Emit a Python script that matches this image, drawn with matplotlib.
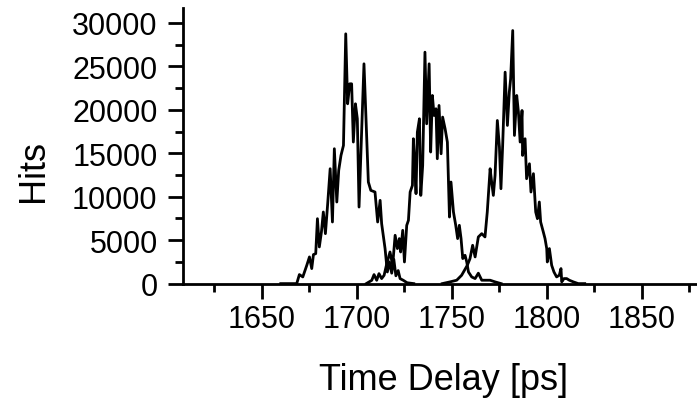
import matplotlib
matplotlib.use("Agg")
import matplotlib.pyplot as plt
from matplotlib.ticker import MultipleLocator

plt.rcParams['font.family'] = ['Liberation Sans', 'DejaVu Sans']

# peak 1 (time delay in ps, hits)
t1 = [1660, 1668.4, 1669.8, 1671.6, 1673.7, 1675.1, 1676.3, 1677.2, 1678.4, 1679.3,
      1680.3, 1681.4, 1682.4, 1683.5, 1684.7, 1686.0, 1687.2, 1688.2, 1689.5, 1690.5,
      1691.7, 1693.0, 1694.2, 1695.2, 1696.3, 1697.3, 1698.2, 1699.3, 1700.3, 1701.2,
      1703.8, 1706.1, 1707.4, 1709.6, 1711.0, 1712.3, 1713.1, 1714.9, 1716.1, 1717.2,
      1718.4, 1719.5, 1720.6, 1721.8, 1722.8, 1724.5, 1726.5, 1730]
h1 = [0, 0, 1040, 770, 2110, 3070, 1730, 3340, 3450, 7470,
      4220, 5940, 8240, 5750, 9200, 13220, 7090, 15520, 9390, 13030,
      14750, 15900, 28740, 20690, 22990, 22990, 16290, 20690, 18970, 8810,
      25290, 11690, 10730, 10540, 7090, 9580, 6900, 4030, 1340, 2500,
      1200, 2800, 900, 1500, 580, 380, 100, 0]

# peak 2
t2 = [1705, 1707.9, 1709.1, 1710.5, 1711.7, 1713.1, 1714.4, 1715.8, 1717.5, 1718.9,
      1720.2, 1721.4, 1722.4, 1723.1, 1724.2, 1725.1, 1726.3, 1727.2, 1728.1, 1729.3,
      1729.8, 1730.7, 1731.2, 1731.9, 1733.0, 1733.7, 1734.7, 1735.9, 1736.8, 1738.1,
      1738.9, 1739.8, 1740.7, 1741.7, 1742.4, 1743.3, 1744.4, 1745.2, 1746.5, 1747.7,
      1748.8, 1749.6, 1750.9, 1752.1, 1753.1, 1754.0, 1754.9, 1755.8, 1757.0, 1757.9,
      1758.8, 1760.5, 1762.3, 1764.0, 1765.8, 1770.2, 1772.8, 1776]
h2 = [0, 380, 1040, 380, 1150, 580, 960, 2300, 3640, 2110,
      5560, 4030, 5180, 3640, 6130, 2490, 6700, 7280, 10540, 11300,
      16670, 13030, 10350, 17430, 18970, 10150, 13600, 26630, 18390, 25290,
      15140, 21650, 19350, 20120, 14370, 20500, 14940, 19160, 17820, 16280,
      7660, 11690, 8240, 6710, 5180, 6710, 5180, 2880, 3260, 2490,
      1340, 770, 580, 1200, 390, 390, 200, 0]

# peak 3
t3 = [1745, 1749.1, 1752.6, 1755.2, 1758.2, 1759.6, 1761.0, 1762.3, 1764.0, 1765.8,
      1767.5, 1768.7, 1770.2, 1771.0, 1771.9, 1772.8, 1774.0, 1775.1, 1775.9, 1776.8,
      1778.1, 1779.3, 1780.3, 1781.0, 1782.1, 1783.0, 1784.2, 1785.1, 1786.0, 1787.0,
      1787.3, 1788.6, 1789.4, 1790.9, 1791.7, 1793.0, 1794.2, 1795.1, 1796.1, 1796.8,
      1798.2, 1799.1, 1800.0, 1800.3, 1801.4, 1802.6, 1803.8, 1805.2, 1806.6, 1807.5,
      1807.9, 1809.1, 1810.5, 1811.9, 1814.0, 1816.6, 1820]
h3 = [0, 200, 390, 960, 2110, 2870, 4410, 3070, 5370, 5750,
      5370, 8240, 13220, 11690, 10150, 12450, 18770, 15710, 10920, 15900,
      24330, 18200, 22030, 23560, 29120, 17050, 21650, 19730, 16290, 19920,
      14750, 16670, 12070, 13790, 10540, 12650, 8240, 7470, 9390, 7090,
      5940, 5180, 4030, 2490, 4030, 2110, 1340, 770, 960, 1730,
      200, 580, 580, 390, 200, 0, 0]

fig = plt.figure(figsize=(6.97, 4.02), dpi=100)
ax = fig.add_axes([0.263, 0.292, 0.737, 0.686])

for t, h in [(t1, h1), (t2, h2), (t3, h3)]:
    ax.plot(t, h, color="black", lw=2)

ax.set_xlim(1608.7, 1879.1)
ax.set_ylim(0, 31730)

ax.spines['top'].set_visible(False)
ax.spines['right'].set_visible(False)
ax.spines['left'].set_linewidth(2)
ax.spines['bottom'].set_linewidth(2)

ax.xaxis.set_major_locator(MultipleLocator(50))
ax.xaxis.set_minor_locator(MultipleLocator(25))
ax.yaxis.set_major_locator(MultipleLocator(5000))
ax.yaxis.set_minor_locator(MultipleLocator(2500))
ax.tick_params(which="major", length=11, width=2, labelsize=22)
ax.tick_params(axis="x", which="major", pad=3.5)
ax.tick_params(axis="y", which="major", pad=7.5)
ax.tick_params(which="minor", length=6, width=2)

# axis titles placed by hand (the y one sits below the axis middle)
fig.text(444 / 697, 1 - 390 / 402, "Time Delay [ps]", fontsize=26,
         ha="center", va="baseline")
fig.text(33.3 / 697, 1 - 171 / 402, "Hits", fontsize=26, rotation=90,
         ha="center", va="center")

fig.savefig("out.png", dpi=100)
